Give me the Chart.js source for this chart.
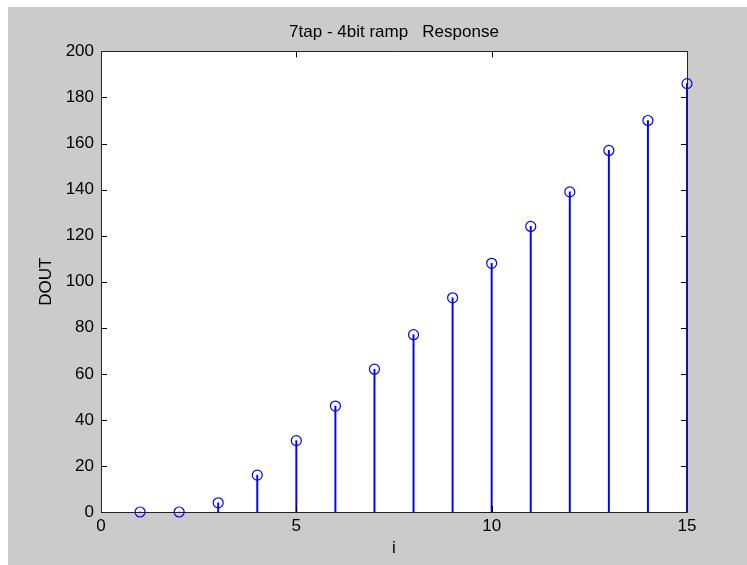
<!DOCTYPE html>
<html><head><meta charset="utf-8">
<script src="https://cdn.jsdelivr.net/npm/chart.js@4.4.1/dist/chart.umd.min.js"></script>
<style>
html,body{margin:0;padding:0;background:#fff;}
#wrap{position:absolute;left:8px;top:7px;width:739px;height:558px;background:#cbcbcb;}
canvas{display:block;}
</style></head>
<body><div id="wrap"><canvas id="c" width="739" height="558"></canvas></div>
<script>
const chartTitle = '7tap - 4bit ramp   Response';
const xLabel = 'i';
const yLabel = 'DOUT';
const idx = [1,2,3,4,5,6,7,8,9,10,11,12,13,14,15];
const dout = [0,0,4,16,31,46,62,77,93,108,124,139,157,170,186];
const xTicks = [0,5,10,15];
const yTicks = [0,20,40,60,80,100,120,140,160,180,200];

const pts = idx.map((x,i)=>({x:x,y:dout[i]}));
const FONT = 'Liberation Sans, Arial, sans-serif';
const TICK = 6;

const boxPlugin = {
  id:'box',
  beforeDraw(chart){
    const a = chart.chartArea, c = chart.ctx;
    c.save(); c.fillStyle='#fff'; c.fillRect(a.left,a.top,a.right-a.left,a.bottom-a.top); c.restore();
  },
  afterDatasetsDraw(chart){
    const a = chart.chartArea, c = chart.ctx;
    const xs = chart.scales.x, ys = chart.scales.y;
    c.save();
    c.strokeStyle='#000'; c.lineWidth=1;
    c.beginPath();
    xTicks.forEach(v=>{
      const px = Math.round(xs.getPixelForValue(v))+0.5;
      c.moveTo(px,a.bottom); c.lineTo(px,a.bottom-TICK);
      c.moveTo(px,a.top); c.lineTo(px,a.top+TICK);
    });
    yTicks.forEach(v=>{
      const py = Math.round(ys.getPixelForValue(v))+0.5;
      c.moveTo(a.left,py); c.lineTo(a.left+TICK,py);
      c.moveTo(a.right,py); c.lineTo(a.right-TICK,py);
    });
    c.stroke();
    c.strokeStyle='#222';
    c.beginPath();
    c.moveTo(Math.round(a.left)+0.5,Math.round(a.top)+0.5);
    c.lineTo(Math.round(a.left)+0.5,Math.round(a.bottom)+0.5);
    c.lineTo(Math.round(a.right)+0.5,Math.round(a.bottom)+0.5);
    c.moveTo(Math.round(a.left)+0.5,Math.round(a.top)+0.5);
    c.lineTo(Math.round(a.right)+0.5,Math.round(a.top)+0.5);
    c.lineTo(Math.round(a.right)+0.5,Math.round(a.bottom)+0.5);
    c.stroke();
    c.restore();
  }
};

new Chart(document.getElementById('c'), {
  type:'scatter',
  data:{datasets:[
    {type:'bar', data:pts, backgroundColor:'#0000ff', borderWidth:0, barThickness:1.3, clip:false, order:2},
    {type:'scatter', data:pts, pointStyle:'circle', pointRadius:5, pointBorderWidth:1.2,
     pointBackgroundColor:'rgba(0,0,0,0)', pointBorderColor:'#0000ff', clip:false, order:1}
  ]},
  options:{
    responsive:false, animation:false,
    layout:{padding:{left:0,right:60,top:0,bottom:0}},
    plugins:{
      legend:{display:false}, tooltip:{enabled:false},
      title:{display:true, fullSize:false, text:chartTitle, color:'#000', font:{family:FONT,size:17,weight:'normal'}, padding:{top:15,bottom:9}}
    },
    scales:{
      x:{type:'linear', min:0, max:15, offset:false, afterBuildTicks(s){s.ticks=xTicks.map(v=>({value:v}));},
         afterFit(s){s.height=53;},
         grid:{display:false, drawTicks:false, offset:false}, border:{display:false},
         ticks:{color:'#000', font:{family:FONT,size:17}, padding:4, maxRotation:0},
         title:{display:true, text:xLabel, color:'#000', font:{family:FONT,size:17}, padding:{top:0,bottom:6}}},
      y:{type:'linear', min:0, max:200, afterBuildTicks(s){s.ticks=yTicks.map(v=>({value:v}));},
         afterFit(s){s.width=93;},
         grid:{display:false, drawTicks:false}, border:{display:false},
         ticks:{color:'#000', font:{family:FONT,size:17}, padding:7},
         title:{display:true, text:yLabel, color:'#000', font:{family:FONT,size:17}, padding:{top:28,bottom:0}}}
    }
  },
  plugins:[boxPlugin]
});
</script>
</body></html>
